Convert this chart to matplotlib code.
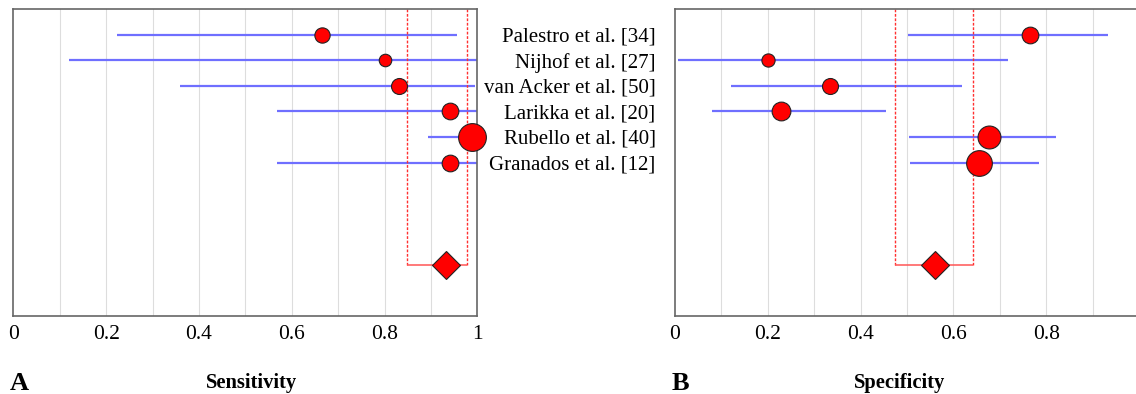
import numpy as np
import matplotlib
matplotlib.use("Agg")
import matplotlib.pyplot as plt

plt.rcParams["font.family"] = ["Liberation Serif", "DejaVu Serif"]

studies = [
    "Palestro et al. [34]",
    "Nijhof et al. [27]",
    "van Acker et al. [50]",
    "Larikka et al. [20]",
    "Rubello et al. [40]",
    "Granados et al. [12]",
]

# sensitivity: point estimate, lower CI, upper CI, marker size (pt)
sens = [0.666, 0.800, 0.831, 0.940, 0.988, 0.940]
sens_lo = [0.223, 0.119, 0.360, 0.568, 0.894, 0.568]
sens_hi = [0.957, 1.000, 0.995, 1.000, 1.000, 1.000]
sens_ms = [11, 9, 11.5, 12, 20, 12]
sens_pool = 0.932
sens_pool_lo = 0.848
sens_pool_hi = 0.978

# specificity
spec = [0.765, 0.200, 0.333, 0.228, 0.676, 0.654]
spec_lo = [0.503, 0.007, 0.121, 0.080, 0.504, 0.506]
spec_hi = [0.934, 0.718, 0.618, 0.455, 0.821, 0.784]
spec_ms = [12, 9.5, 11.5, 13.5, 16.5, 18.5]
spec_pool = 0.560
spec_pool_lo = 0.475
spec_pool_hi = 0.642

rows = np.arange(len(studies))
pool_row = 9
ticks = [0, 0.2, 0.4, 0.6, 0.8, 1]
ticklabels = ["0", "0.2", "0.4", "0.6", "0.8", "1"]

fig = plt.figure(figsize=(11.36, 3.94), dpi=100)
ax1 = fig.add_axes([0.0117, 0.1987, 0.4085, 0.7777])
ax2 = fig.add_axes([0.5942, 0.1987, 0.4085, 0.7777])


def forest(ax, est, lo, hi, ms, pool, plo, phi):
    for x in np.arange(0.1, 1.0, 0.1):
        ax.axvline(x, color="#dddddd", lw=0.8, zorder=0)
    ax.hlines(rows, lo, hi, color="#6f6fff", lw=1.6, zorder=2)
    for r, x, s in zip(rows, est, ms):
        ax.plot(x, r, "o", ms=s, mfc="red", mec="#222222", mew=0.8, zorder=3, clip_on=False)
    ax.vlines([plo, phi], -1, pool_row, colors="#ff3030", lw=1.0,
              linestyles=(0, (2, 1.2)), zorder=2)
    ax.hlines(pool_row, plo, phi, colors="#ff5555", lw=1.1, zorder=2)
    ax.plot(pool, pool_row, "D", ms=14, mfc="red", mec="#222222", mew=0.8, zorder=3)
    ax.set_xlim(0, 1)
    ax.set_ylim(11, -1)
    ax.set_xticks(ticks, ticklabels, fontsize=15.5)
    ax.tick_params(axis="x", length=0, pad=7)
    for sp in ax.spines.values():
        sp.set_color("#666666")
        sp.set_linewidth(1.2)


forest(ax1, sens, sens_lo, sens_hi, sens_ms, sens_pool, sens_pool_lo, sens_pool_hi)
forest(ax2, spec, spec_lo, spec_hi, spec_ms, spec_pool, spec_pool_lo, spec_pool_hi)

ax1.set_yticks([])
ax2.set_yticks(rows, studies, fontsize=15)
ax2.tick_params(axis="y", length=0, pad=14)

fig.text(0.009, 0.011, "A", fontsize=19, fontweight="bold", va="baseline")
fig.text(0.2215, 0.016, "Sensitivity", fontsize=14.8, fontweight="bold", ha="center", va="baseline")
fig.text(0.591, 0.011, "B", fontsize=19, fontweight="bold", va="baseline")
fig.text(0.792, 0.016, "Specificity", fontsize=14.8, fontweight="bold", ha="center", va="baseline")

fig.savefig("out.png", dpi=100)
